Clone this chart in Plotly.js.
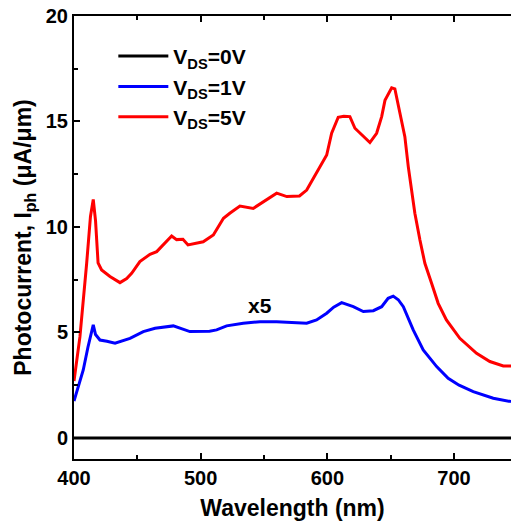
<!DOCTYPE html>
<html>
<head>
<meta charset="utf-8">
<script src="https://cdn.plot.ly/plotly-3.0.1.min.js"></script>
<style>html,body{margin:0;padding:0;background:#fff;}#chart{width:511px;height:527px;}</style>
</head>
<body>
<div id="chart"></div>
<script>
// V_DS = 5V (red)
const wl5 = [400, 404.7, 410, 413, 415.2, 417, 419, 421.8, 428.4, 436.3, 441.6, 445.5, 452, 460, 465.3, 472, 477.1, 481, 486, 490, 494, 502, 510, 518, 523, 531, 541.5, 552, 560, 568, 578, 583.7, 589, 597, 599.5, 603.4, 608.6, 613, 617.8, 621.8, 625.7, 633.6, 638.9, 642.9, 645.5, 649.4, 650.8, 653.3, 657.3, 661.2, 663.9, 666.5, 669.1, 673.1, 677, 682.3, 687.5, 694, 704.6, 717.8, 728.3, 738.9, 745];
const i5  = [2.7, 4.8, 8.28, 10.5, 11.3, 10.3, 8.3, 7.96, 7.65, 7.36, 7.55, 7.8, 8.36, 8.7, 8.83, 9.25, 9.57, 9.4, 9.42, 9.15, 9.2, 9.3, 9.62, 10.41, 10.65, 10.99, 10.88, 11.28, 11.6, 11.44, 11.47, 11.75, 12.31, 13.18, 13.41, 14.44, 15.2, 15.25, 15.23, 14.68, 14.44, 14.0, 14.44, 15.23, 16.0, 16.5, 16.6, 16.55, 15.39, 14.28, 12.86, 11.75, 10.65, 9.38, 8.28, 7.33, 6.38, 5.59, 4.72, 4.01, 3.62, 3.41, 3.41];

// V_DS = 1V (blue, x5)
const wl1 = [400, 403, 407.3, 411, 415.2, 417, 420.5, 426, 432.4, 444.2, 454.7, 464, 478.4, 491.5, 502, 507, 512.6, 520.5, 533.6, 546.8, 560, 573, 583.7, 591.5, 599.5, 605, 611.3, 620.5, 628.4, 636.3, 642.9, 648, 652, 656, 660, 667.8, 675.7, 686.3, 695.4, 704, 715.2, 731, 745];
const i1  = [1.75, 2.4, 3.22, 4.3, 5.36, 4.9, 4.64, 4.58, 4.49, 4.72, 5.04, 5.2, 5.31, 5.04, 5.04, 5.06, 5.12, 5.31, 5.44, 5.51, 5.51, 5.48, 5.44, 5.59, 5.91, 6.2, 6.41, 6.22, 5.99, 6.03, 6.22, 6.62, 6.72, 6.55, 6.22, 5.12, 4.17, 3.38, 2.83, 2.5, 2.19, 1.88, 1.72];

// V_DS = 0V (black)
const wl0 = [400, 745];
const i0  = [0, 0];

const names = ['V<sub>DS</sub>=0V', 'V<sub>DS</sub>=1V', 'V<sub>DS</sub>=5V'];
const annText = 'x5';
const annPos = [546.8, 6.3];

const font = 'Liberation Sans, Arial, sans-serif';

const traces = [
  {x: wl0, y: i0, mode: 'lines', name: names[0], line: {color: '#000000', width: 3}},
  {x: wl1, y: i1, mode: 'lines', name: names[1], line: {color: '#0000ff', width: 3}},
  {x: wl5, y: i5, mode: 'lines', name: names[2], line: {color: '#ff0000', width: 3}}
];

const axisCommon = {
  showgrid: false, zeroline: false, showline: true, linecolor: '#000', linewidth: 2,
  ticks: 'inside', ticklen: 6, tickwidth: 2, tickcolor: '#000',
  tickfont: {family: font, size: 20, color: '#000', weight: 'bold'}
};

const layout = {
  width: 511, height: 527,
  margin: {l: 74, r: 0, t: 16, b: 68},
  paper_bgcolor: '#fff', plot_bgcolor: '#fff',
  font: {family: font, color: '#000'},
  showlegend: true,
  legend: {
    x: 0.09, y: 0.955, xanchor: 'left', yanchor: 'top',
    bgcolor: 'rgba(0,0,0,0)', borderwidth: 0,
    font: {family: font, size: 21, color: '#000', weight: 'bold'},
    tracegroupgap: 0, itemwidth: 50
  },
  xaxis: Object.assign({}, axisCommon, {
    range: [400, 745], dtick: 100, tick0: 400, mirror: 'ticks',
    minor: {dtick: 50, ticks: 'inside', ticklen: 4, tickwidth: 2, tickcolor: '#000'},
    title: {text: 'Wavelength (nm)', font: {family: font, size: 23, color: '#000', weight: 'bold'}, standoff: 12}
  }),
  yaxis: Object.assign({}, axisCommon, {
    range: [-1, 20], dtick: 5, tick0: 0,
    minor: {dtick: 2.5, ticks: 'inside', ticklen: 4, tickwidth: 2, tickcolor: '#000'},
    title: {text: 'Photocurrent, I<sub>ph</sub> (μA/μm)', font: {family: font, size: 23, color: '#000', weight: 'bold'}, standoff: 8}
  }),
  annotations: [{
    x: annPos[0], y: annPos[1], xref: 'x', yref: 'y', text: annText, showarrow: false,
    font: {family: font, size: 21, color: '#000', weight: 'bold'}
  }]
};

Plotly.newPlot('chart', traces, layout, {displayModeBar: false, staticPlot: true});
</script>
</body>
</html>
